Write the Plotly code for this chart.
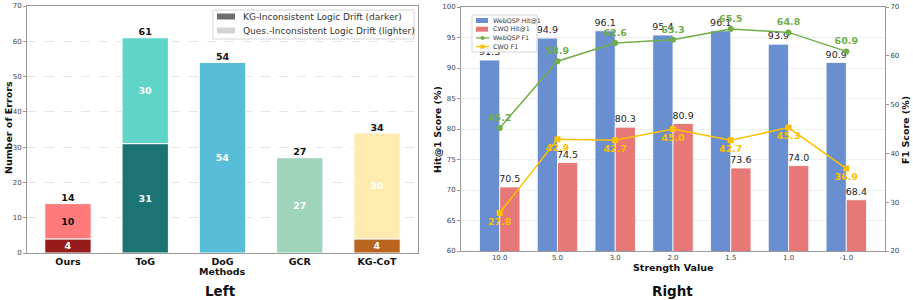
import plotly.graph_objects as go

# ---- Left chart data ----
methods = ["Ours", "ToG", "DoG", "GCR", "KG-CoT"]
kg_drift = [4, 31, 0, 0, 4]        # darker segment
ques_drift = [10, 30, 54, 27, 30]  # lighter segment
dark_colors = ["#961c1c", "#1b7473", "#1b7473", "#1b7473", "#b9651f"]
light_colors = ["#ff7b7b", "#5fd4c9", "#58bdd6", "#9ed3bc", "#ffebb0"]
totals = [a + b for a, b in zip(kg_drift, ques_drift)]
left_legend = ["KG-Inconsistent Logic Drift (darker)", "Ques.-Inconsistent Logic Drift (lighter)"]

# ---- Right chart data ----
strengths = ["10.0", "5.0", "3.0", "2.0", "1.5", "1.0", "-1.0"]
webqsp_hit = [91.3, 94.9, 96.1, 95.4, 96.1, 93.9, 90.9]
cwq_hit = [70.5, 74.5, 80.3, 80.9, 73.6, 74.0, 68.4]
webqsp_f1 = [45.2, 58.9, 62.6, 63.3, 65.5, 64.8, 60.9]
cwq_f1 = [27.8, 42.9, 42.7, 45.0, 42.7, 45.3, 36.9]
right_legend = ["WebQSP Hit@1", "CWQ Hit@1", "WebQSP F1", "CWQ F1"]

FONT = "DejaVu Sans"
W, H = 913, 300
BLUE, RED, GREEN, YELLOW = "#6a8fd0", "#e77878", "#70ad47", "#ffc000"

def px(x):
    return x / W

def py(y):
    return 1 - y / H

fig = go.Figure()

# Left: stacked bars via base
fig.add_trace(go.Bar(
    x=methods, y=kg_drift, width=0.6, offset=-0.3,
    marker=dict(color=dark_colors, line=dict(color="white", width=1)),
    text=[str(v) if v > 0 else "" for v in kg_drift], textposition="inside",
    insidetextanchor="middle", textangle=0, constraintext="none",
    textfont=dict(family=FONT, size=9.5, color="white", weight="bold"),
    showlegend=False, xaxis="x", yaxis="y", hoverinfo="skip"))
fig.add_trace(go.Bar(
    x=methods, y=ques_drift, base=kg_drift, width=0.6, offset=-0.3,
    marker=dict(color=light_colors, line=dict(color="white", width=1)),
    text=[str(v) for v in ques_drift], textposition="inside",
    insidetextanchor="middle", textangle=0, constraintext="none",
    textfont=dict(family=FONT, size=9.5, color=["#111111", "white", "white", "white", "white"], weight="bold"),
    showlegend=False, xaxis="x", yaxis="y", hoverinfo="skip"))
fig.add_trace(go.Scatter(
    x=methods, y=totals, mode="text", text=[str(t) for t in totals],
    textposition="top center",
    textfont=dict(family=FONT, size=9.5, color="#111111", weight="bold"),
    showlegend=False, xaxis="x", yaxis="y", cliponaxis=False, hoverinfo="skip"))

# Right: grouped bars
fig.add_trace(go.Bar(
    x=strengths, y=webqsp_hit, width=0.35, offset=-0.35, name=right_legend[0],
    marker=dict(color=BLUE, line=dict(color="white", width=0.8)),
    text=[f"{v:.1f}" for v in webqsp_hit], textposition="outside",
    textangle=0, constraintext="none",
    textfont=dict(family=FONT, size=9.5, color="#222222"),
    xaxis="x2", yaxis="y2", showlegend=False, cliponaxis=False))
fig.add_trace(go.Bar(
    x=strengths, y=cwq_hit, width=0.35, offset=0.0, name=right_legend[1],
    marker=dict(color=RED, line=dict(color="white", width=0.8)),
    text=[f"{v:.1f}" for v in cwq_hit], textposition="outside",
    textangle=0, constraintext="none",
    textfont=dict(family=FONT, size=9.5, color="#222222"),
    xaxis="x2", yaxis="y2", showlegend=False, cliponaxis=False))
fig.add_trace(go.Scatter(
    x=strengths, y=webqsp_f1, name=right_legend[2], mode="lines+markers+text",
    line=dict(color=GREEN, width=1.5), marker=dict(symbol="circle", size=6),
    text=[f"{v:.1f}" for v in webqsp_f1], textposition="top center",
    textfont=dict(family=FONT, size=9.5, color=GREEN, weight="bold"),
    xaxis="x2", yaxis="y3", showlegend=False, cliponaxis=False))
fig.add_trace(go.Scatter(
    x=strengths, y=cwq_f1, name=right_legend[3], mode="lines+markers+text",
    line=dict(color=YELLOW, width=1.5), marker=dict(symbol="square", size=6),
    text=[f"{v:.1f}" for v in cwq_f1], textposition="bottom center",
    textfont=dict(family=FONT, size=9.5, color=YELLOW, weight="bold"),
    xaxis="x2", yaxis="y3", showlegend=False, cliponaxis=False))

tick_font = dict(family=FONT, size=7, color="#444444")
axis_common = dict(showline=True, linecolor="#999999", linewidth=1, mirror=True,
                   ticks="outside", ticklen=3, tickcolor="#999999", automargin=False,
                   tickfont=tick_font)
title_font = dict(family=FONT, size=9.5, color="#111111", weight="bold")

shapes = []
annotations = []

def add_text(text, x, y, font, angle=0, xanchor="center"):
    annotations.append(dict(text=text, x=px(x), y=py(y), xref="paper", yref="paper",
                            showarrow=False, textangle=angle, xanchor=xanchor,
                            yanchor="middle", font=font))

# Axis titles and panel captions
add_text("Number of Errors", 8, 128, title_font, angle=-90)
add_text("Methods", 222, 271, title_font)
add_text("Hit@1 Score (%)", 437, 130, title_font, angle=-90)
add_text("Strength Value", 673, 267, title_font)
add_text("F1 Score (%)", 905, 130, title_font, angle=-90)
cap_font = dict(family=FONT, size=13.5, color="#111111", weight="bold")
add_text("Left", 220, 291, cap_font)
add_text("Right", 672, 291, cap_font)

# Left legend (compact like the reference)
shapes.append(dict(type="rect", xref="paper", yref="paper", x0=px(213), x1=px(414),
                   y0=py(39), y1=py(10), fillcolor="rgba(255,255,255,0.9)",
                   line=dict(color="#d5d5d5", width=1)))
for i, (label, col) in enumerate(zip(left_legend, ["#6e6e6e", "#d3d3d3"])):
    yc = 16.5 + i * 14
    shapes.append(dict(type="rect", xref="paper", yref="paper", x0=px(217), x1=px(235),
                       y0=py(yc + 3), y1=py(yc - 3), fillcolor=col, line=dict(width=0)))
    add_text(label, 241, yc, dict(family=FONT, size=9, color="#333333"), xanchor="left")

# Right legend (compact like the reference)
shapes.append(dict(type="rect", xref="paper", yref="paper", x0=px(472), x1=px(537),
                   y0=py(52), y1=py(15), fillcolor="rgba(255,255,255,0.9)",
                   line=dict(color="#d5d5d5", width=1)))
small = dict(family=FONT, size=6.3, color="#333333")
for i, label in enumerate(right_legend):
    yc = 20.5 + i * 8.7
    if i < 2:
        col = [BLUE, RED][i]
        shapes.append(dict(type="rect", xref="paper", yref="paper", x0=px(476), x1=px(488),
                           y0=py(yc + 2.5), y1=py(yc - 2.5), fillcolor=col, line=dict(width=0)))
    else:
        col = [GREEN, YELLOW][i - 2]
        shapes.append(dict(type="line", xref="paper", yref="paper", x0=px(476), x1=px(489),
                           y0=py(yc), y1=py(yc), line=dict(color=col, width=1.3)))
        kind = "circle" if i == 2 else "rect"
        shapes.append(dict(type=kind, xref="paper", yref="paper", x0=px(480.5), x1=px(484.5),
                           y0=py(yc + 2), y1=py(yc - 2), fillcolor=col, line=dict(width=0)))
    add_text(label, 491, yc, small, xanchor="left")

fig.update_layout(
    width=W, height=H, margin=dict(l=0, r=0, t=0, b=0, autoexpand=False),
    plot_bgcolor="white", paper_bgcolor="white", barmode="overlay",
    font=dict(family=FONT), showlegend=False,
    xaxis=dict(domain=[px(27), px(418)], range=[-0.53, 4.53], anchor="y",
               **{**axis_common, "ticklen": 0,
                  "tickfont": dict(family=FONT, size=9.5, color="#111111", weight="bold")}),
    yaxis=dict(domain=[1 - 253/H, 1 - 6/H], range=[0, 70], dtick=10, anchor="x",
               showgrid=True, gridcolor="#e6e6e6", griddash="dash", gridwidth=0.6,
               zeroline=False, **axis_common),
    xaxis2=dict(domain=[px(461), px(885)], range=[-0.67, 6.67], anchor="y2",
                **{**axis_common, "ticklen": 0}),
    yaxis2=dict(domain=[1 - 251/H, 1 - 7/H], range=[60, 100], dtick=5, anchor="x2",
                showgrid=True, gridcolor="#efefef", gridwidth=0.8, zeroline=False,
                **axis_common),
    yaxis3=dict(range=[20, 70], dtick=10, overlaying="y2", side="right", anchor="x2",
                automargin=False,
                showgrid=False, zeroline=False, showline=True, linecolor="#999999",
                ticks="outside", ticklen=3, tickcolor="#999999", tickfont=tick_font),
    shapes=shapes,
    annotations=annotations,
)

fig.write_html("out.html", config={"displayModeBar": False},
               post_script="document.body.style.margin='0';")
